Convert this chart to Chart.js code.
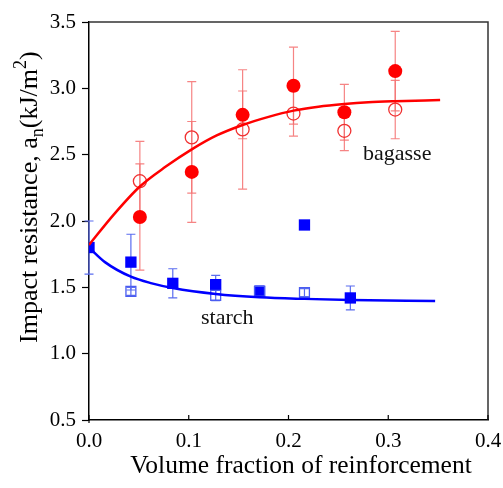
<!DOCTYPE html>
<html lang="en">
  <head>
    <meta charset="utf-8" />
    <title>Impact resistance vs volume fraction</title>
    <script src="https://cdn.jsdelivr.net/npm/chart.js"></script>
    <style>
      html, body { margin: 0; padding: 0; background: #fff; }
      #wrap { width: 503px; height: 488px; }
    </style>
  </head>
  <body>
    <div id="wrap"><canvas id="myChart" width="503" height="488"></canvas></div>

    <script>
      // bagasse (red) measurements
      var bagX = [0.051, 0.103, 0.154, 0.205, 0.256, 0.307];
      var bagFilled = [2.03, 2.37, 2.80, 3.02, 2.82, 3.13];
      var bagFilledErr = [0.40, 0.38, 0.18, 0.29, 0.21, 0.30];
      var bagOpen = [2.30, 2.63, 2.69, 2.81, 2.68, 2.84];
      var bagOpenErr = [0.30, 0.42, 0.45, 0.17, 0.15, 0.22];

      // starch (blue) measurements
      var starX = [0.0, 0.042, 0.084, 0.127, 0.171, 0.216, 0.262];
      var starFilled = [1.80, 1.69, 1.53, 1.52, 1.47, 1.97, 1.42];
      var starFilledErr = [0.20, 0.21, 0.11, 0.07, 0.04, 0, 0.09];
      var starOpen = [null, 1.47, null, 1.44, 1.47, 1.46, null];
      var starOpenErr = [0, 0.03, 0, 0.04, 0.02, 0.03, 0];

      // fitted curves
      var bagFitX = [0, 0.025, 0.051, 0.077, 0.103, 0.128, 0.154, 0.18, 0.205, 0.23, 0.256, 0.28, 0.307, 0.352];
      var bagFitY = [1.82, 2.05, 2.26, 2.41, 2.54, 2.645, 2.724, 2.785, 2.832, 2.862, 2.882, 2.895, 2.903, 2.912];
      var starFitX = [0, 0.016, 0.042, 0.063, 0.084, 0.127, 0.171, 0.216, 0.262, 0.347];
      var starFitY = [1.80, 1.69, 1.58, 1.53, 1.495, 1.45, 1.425, 1.413, 1.405, 1.397];

      // in-plot labels
      var noteText = ["bagasse", "starch"];
      var noteX = [0.309, 0.1386];
      var noteY = [2.50, 1.27];

      var xTicks = [0.0, 0.1, 0.2, 0.3, 0.4];

      var serif = "'Liberation Serif', 'Times New Roman', serif";

      let toPoints = (xs, ys) => {
        let pts = [];
        xs.forEach((x, i) => {
          if (ys[i] !== null) pts.push({ x: x, y: ys[i] });
        });
        return pts;
      };

      // error bars drawn under the markers
      let errorBars = {
        id: "errorBars",
        beforeDatasetsDraw: (chart) => {
          let ctx = chart.ctx;
          let xs = chart.scales.x;
          let ys = chart.scales.y;
          chart.data.datasets.forEach((ds) => {
            if (!ds.errX) return;
            ctx.save();
            ctx.strokeStyle = ds.errColor;
            ctx.lineWidth = 1.2;
            ds.errX.forEach((x, i) => {
              let v = ds.errY[i];
              let e = ds.errs[i];
              if (v === null || !e) return;
              let px = xs.getPixelForValue(x);
              let top = ys.getPixelForValue(v + e);
              let bot = ys.getPixelForValue(v - e);
              ctx.beginPath();
              ctx.moveTo(px, top);
              ctx.lineTo(px, bot);
              ctx.moveTo(px - 4.5, top);
              ctx.lineTo(px + 4.5, top);
              ctx.moveTo(px - 4.5, bot);
              ctx.lineTo(px + 4.5, bot);
              ctx.stroke();
            });
            ctx.restore();
          });
        },
      };

      // frame, inward x ticks, axis titles and notes
      let decorations = {
        id: "decorations",
        afterDraw: (chart) => {
          let ctx = chart.ctx;
          let a = chart.chartArea;
          let xs = chart.scales.x;
          let ys = chart.scales.y;
          ctx.save();

          ctx.strokeStyle = "#333";
          ctx.lineWidth = 1.5;
          ctx.beginPath();
          ctx.moveTo(a.left, a.top);
          ctx.lineTo(a.right, a.top);
          ctx.lineTo(a.right, a.bottom);
          ctx.stroke();

          ctx.strokeStyle = "#000";
          ctx.lineWidth = 1.2;
          ctx.beginPath();
          xTicks.forEach((t) => {
            let px = xs.getPixelForValue(t);
            ctx.moveTo(px, a.bottom);
            ctx.lineTo(px, a.bottom - 5);
          });
          ctx.moveTo(a.left, a.bottom);
          ctx.lineTo(a.left, a.bottom + 3);
          ctx.stroke();

          ctx.fillStyle = "#111";
          ctx.font = "22px " + serif;
          ctx.textAlign = "center";
          ctx.textBaseline = "middle";
          noteText.forEach((t, i) => {
            ctx.fillText(t, xs.getPixelForValue(noteX[i]), ys.getPixelForValue(noteY[i]));
          });

          ctx.fillStyle = "#000";
          ctx.font = "25.5px " + serif;
          ctx.textBaseline = "alphabetic";
          ctx.fillText("Volume fraction of reinforcement", 301, 473);

          // y title with subscript and superscript
          let parts = [
            ["Impact resistance, a", 26, 0],
            ["n", 18, 6],
            ["(kJ/m", 26, 0],
            ["2", 18, -11],
            [")", 26, 0],
          ];
          ctx.translate(37, 343);
          ctx.rotate(-Math.PI / 2);
          ctx.textAlign = "left";
          let pos = 0;
          parts.forEach((p) => {
            ctx.font = p[1] + "px " + serif;
            ctx.fillText(p[0], pos, p[2]);
            pos += ctx.measureText(p[0]).width;
          });
          ctx.restore();
        },
      };

      let makeChart = () => {
        new Chart(document.getElementById("myChart"), {
          type: "scatter",
          data: {
            datasets: [
              {
                label: "bagasse fit",
                data: toPoints(bagFitX, bagFitY),
                showLine: true,
                borderColor: "#ff0000",
                borderWidth: 2.5,
                pointRadius: 0,
                cubicInterpolationMode: "monotone",
              },
              {
                label: "starch fit",
                data: toPoints(starFitX, starFitY),
                showLine: true,
                borderColor: "#0000ff",
                borderWidth: 2.5,
                pointRadius: 0,
                cubicInterpolationMode: "monotone",
              },
              {
                label: "bagasse open",
                data: toPoints(bagX, bagOpen),
                pointStyle: "circle",
                pointRadius: 6.5,
                borderColor: "#f03030",
                borderWidth: 1.3,
                backgroundColor: "rgba(255,255,255,0)",
                errX: bagX, errY: bagOpen, errs: bagOpenErr,
                errColor: "rgba(245,110,110,0.85)",
              },
              {
                label: "bagasse filled",
                data: toPoints(bagX, bagFilled),
                pointStyle: "circle",
                pointRadius: 7,
                borderWidth: 0,
                backgroundColor: "#ff0000",
                errX: bagX, errY: bagFilled, errs: bagFilledErr,
                errColor: "rgba(245,110,110,0.85)",
              },
              {
                label: "starch open",
                data: toPoints(starX, starOpen),
                pointStyle: "rect",
                pointRadius: 7,
                borderColor: "#4a5cf0",
                borderWidth: 1.3,
                backgroundColor: "rgba(255,255,255,0)",
                errX: starX, errY: starOpen, errs: starOpenErr,
                errColor: "#5a6cf0",
              },
              {
                label: "starch filled",
                data: toPoints(starX, starFilled),
                pointStyle: "rect",
                pointRadius: 8,
                borderWidth: 0,
                backgroundColor: "#0000ff",
                errX: starX, errY: starFilled, errs: starFilledErr,
                errColor: "#5a6cf0",
              },
            ],
          },
          options: {
            responsive: false,
            animation: false,
            layout: { padding: { top: 22, right: 15, left: 0, bottom: 0 } },
            plugins: {
              legend: { display: false },
              tooltip: { enabled: false },
            },
            scales: {
              x: {
                type: "linear",
                min: 0,
                max: 0.4,
                afterFit: (scale) => { scale.height = 68; },
                border: { color: "#000", width: 1.5 },
                grid: { drawOnChartArea: false, drawTicks: true, tickLength: 9, color: "rgba(0,0,0,0)" },
                ticks: {
                  stepSize: 0.1,
                  padding: 0,
                  color: "#000",
                  font: { family: serif, size: 21 },
                  callback: (v) => v.toFixed(1),
                },
              },
              y: {
                type: "linear",
                min: 0.5,
                max: 3.5,
                afterFit: (scale) => { scale.width = 89; },
                border: { color: "#000", width: 1.5 },
                grid: { drawOnChartArea: false, tickLength: 7, color: "#000", tickWidth: 1.2 },
                ticks: {
                  stepSize: 0.5,
                  padding: 6,
                  color: "#000",
                  font: { family: serif, size: 21 },
                  callback: (v) => v.toFixed(1),
                },
              },
            },
          },
          plugins: [errorBars, decorations],
        });
      };

      makeChart();
    </script>
  </body>
</html>
